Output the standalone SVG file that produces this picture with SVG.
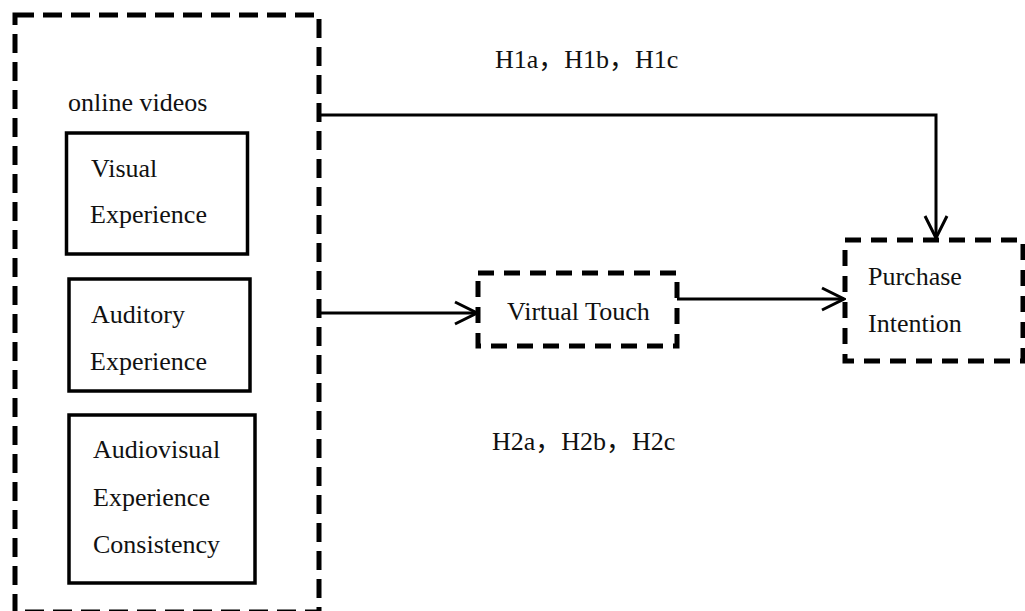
<svg xmlns="http://www.w3.org/2000/svg" width="1025" height="611" viewBox="0 0 1025 611">
  <style>
    .txt { font-family: "Liberation Serif", "Times New Roman", "Noto Sans CJK SC", serif; font-size: 26px; fill: #111; }
    .outer { fill: none; stroke: #000; stroke-width: 5; stroke-dasharray: 19 9; }
    .dash { fill: none; stroke: #000; stroke-width: 5; stroke-dasharray: 16 10; }
    .solid { fill: none; stroke: #000; stroke-width: 3.5; }
    .conn { fill: none; stroke: #000; stroke-width: 3; }
  </style>
  <defs>
    <marker id="arrow" viewBox="0 0 26 26" refX="24" refY="13" markerWidth="26" markerHeight="26" markerUnits="userSpaceOnUse" orient="auto">
      <path d="M2,2 L24,13 L2,24" fill="none" stroke="#000" stroke-width="3"/>
    </marker>
  </defs>
  <rect width="1025" height="611" fill="#fff"/>

  <g id="node-online-videos">
    <rect class="outer" x="15" y="15" width="304" height="597"/>
    <text class="txt" x="68" y="111">online videos</text>
  </g>
  <g id="node-visual-experience">
    <rect class="solid" x="66.5" y="133" width="181" height="121"/>
    <text class="txt" x="91" y="177">Visual</text>
    <text class="txt" x="90" y="223">Experience</text>
  </g>
  <g id="node-auditory-experience">
    <rect class="solid" x="69" y="279" width="181" height="112"/>
    <text class="txt" x="91" y="323">Auditory</text>
    <text class="txt" x="90" y="370">Experience</text>
  </g>
  <g id="node-audiovisual-consistency">
    <rect class="solid" x="69" y="415" width="186" height="168"/>
    <text class="txt" x="93" y="458">Audiovisual</text>
    <text class="txt" x="93" y="506">Experience</text>
    <text class="txt" x="93" y="553">Consistency</text>
  </g>
  <g id="node-virtual-touch">
    <rect class="dash" x="478" y="273" width="199" height="73"/>
    <text class="txt" x="507" y="320">Virtual Touch</text>
  </g>
  <g id="node-purchase-intention">
    <rect class="dash" x="845" y="240" width="178" height="121"/>
    <text class="txt" x="868" y="285">Purchase</text>
    <text class="txt" x="868" y="332">Intention</text>
  </g>

  <g id="connectors">
    <polyline class="conn" points="319,115 936,115 936,238" marker-end="url(#arrow)"/>
    <line class="conn" x1="319" y1="313" x2="477" y2="313" marker-end="url(#arrow)"/>
    <line class="conn" x1="677" y1="299" x2="844" y2="299" marker-end="url(#arrow)"/>
  </g>

  <g id="labels">
    <text class="txt" x="495" y="68">H1a，H1b，H1c</text>
    <text class="txt" x="492" y="450">H2a，H2b，H2c</text>
  </g>
</svg>
